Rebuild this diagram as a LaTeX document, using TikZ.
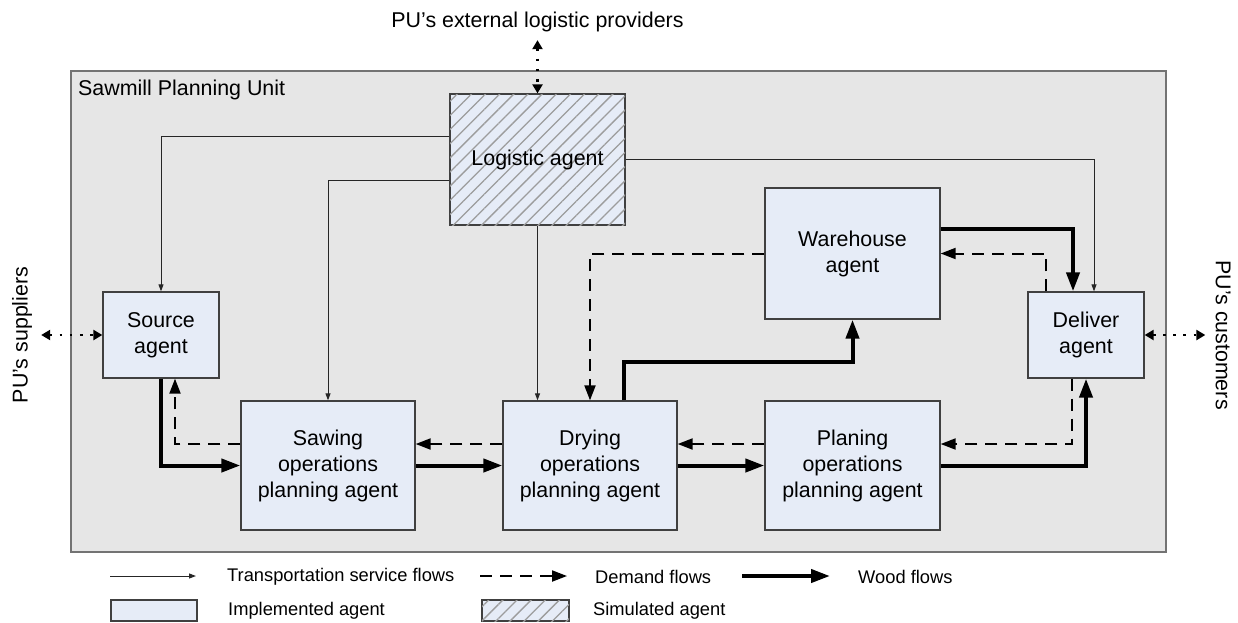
\documentclass[tikz,border=0pt]{standalone}
\usepackage{fontspec}
\setmainfont{Liberation Sans}
\usetikzlibrary{arrows.meta,patterns.meta,positioning}
\definecolor{agentfill}{HTML}{E6ECF7}
\definecolor{unitfill}{HTML}{E6E6E6}
\definecolor{hatchgray}{HTML}{9C9C9C}

\begin{document}
\begin{tikzpicture}[x=1pt,y=-1pt]
    \tikzset{boxfont/.style={font=\fontsize{21.4}{26}\selectfont}}
    \tikzset{legfont/.style={font=\fontsize{18.3}{22}\selectfont}}
    \tikzset{agent/.style={draw=black!75, line width=1.3pt, fill=agentfill, align=center, inner sep=0pt, boxfont}}
    \tikzset{simagent/.style={agent, postaction={pattern={Lines[angle=45,distance=10pt,line width=1.3pt]}, pattern color=hatchgray}}}
    \tikzset{transp/.style={draw=black!85, line width=1pt, -{Triangle[length=7pt,width=5pt]}}}
    \tikzset{demand/.style={line width=2pt, dash pattern=on 12pt off 8pt, -{Triangle[length=15pt,width=11pt]}}}
    \tikzset{wood/.style={line width=4pt, -{Triangle[length=19pt,width=13pt]}}}
    \tikzset{extflow/.style={line width=2.6pt, dash pattern=on 2.6pt off 7.5pt, {Triangle[length=9pt,width=10pt]}-{Triangle[length=9pt,width=10pt]}}}
    \useasboundingbox (0,0) rectangle (1238,622);
    \node[draw=black!55, line width=1.4pt, fill=unitfill, minimum width=1095pt, minimum height=481pt] (pu) at (618.5,311.5) {};
    \node[boxfont, anchor=west, inner sep=0pt] (putitle) at (78,90) {Sawmill Planning Unit};
    \node[boxfont, inner sep=0pt] (ext) at (537.5,22) {PU's external logistic providers};
    \node[boxfont, inner sep=0pt, rotate=90] (sup) at (22,335) {PU's suppliers};
    \node[boxfont, inner sep=0pt, rotate=-90] (cust) at (1223,335) {PU's customers};

    \node[simagent, minimum width=175pt, minimum height=131pt] (logistic) at (537.5,159.5) {Logistic agent};
    \node[agent, minimum width=116pt, minimum height=86pt] (source) at (161,335) {Source\\agent};
    \node[agent, minimum width=116pt, minimum height=86pt] (deliver) at (1086,335) {Deliver\\agent};
    \node[agent, minimum width=175pt, minimum height=131pt] (warehouse) at (852.5,253.5) {Warehouse\\agent};
    \node[agent, minimum width=174pt, minimum height=129pt] (sawing) at (328,465.5) {Sawing\\operations\\planning agent};
    \node[agent, minimum width=174pt, minimum height=129pt] (drying) at (590,465.5) {Drying\\operations\\planning agent};
    \node[agent, minimum width=175pt, minimum height=129pt] (planing) at (852.5,465.5) {Planing\\operations\\planning agent};
    \coordinate (upbend) at (852.5,362);

    \draw[extflow] ([yshift=-8pt]ext.south) -- (logistic.north);
    \draw[extflow] ([xshift=9pt]sup.south) -- (source.west);
    \draw[extflow] (deliver.east) -- ([xshift=-10pt]cust.south);

    \draw[transp] ([yshift=23.5pt]logistic.west) -| (source.north);
    \draw[transp] ([yshift=-20.5pt]logistic.west) -| (sawing.north);
    \draw[transp] (logistic.south) -- (logistic.south |- drying.north);
    \draw[transp] (logistic.east) -| ([xshift=8pt]deliver.north);

    \draw[demand] (warehouse.west) -| (drying.north);
    \draw[demand] ([xshift=-40pt]deliver.north) |- (warehouse.east);
    \draw[demand] ([xshift=-14pt]deliver.south) |- ([yshift=21.5pt]planing.east);
    \draw[demand] ([yshift=21.5pt]planing.west) -- ([yshift=21.5pt]drying.east);
    \draw[demand] ([yshift=21.5pt]drying.west) -- ([yshift=21.5pt]sawing.east);
    \draw[demand] ([yshift=21.5pt]sawing.west) -| ([xshift=14pt]source.south);

    \draw[wood] (source.south) |- (sawing.west);
    \draw[wood] (sawing.east) -- (drying.west);
    \draw[wood] (drying.east) -- (planing.west);
    \draw[wood] (planing.east) -| (deliver.south);
    \draw[wood] ([xshift=34pt]drying.north) |- (upbend) -- (warehouse.south);
    \draw[wood] ([yshift=24.5pt]warehouse.east) -| ([xshift=-13pt]deliver.north);

    \draw[transp] (110,576) -- (196,576);
    \node[legfont, anchor=west, inner sep=0pt] (ltransp) at (227,577) {Transportation service flows};
    \draw[demand] (480,576) -- (567,576);
    \node[legfont, anchor=west, inner sep=0pt] (ldemand) at (595,577) {Demand flows};
    \draw[wood] (742,576) -- (830,576);
    \node[legfont, anchor=west, inner sep=0pt] (lwood) at (858,577) {Wood flows};
    \node[agent, minimum width=86pt, minimum height=21pt] (limpl) at (154,610.5) {};
    \node[legfont, anchor=west, inner sep=0pt] (limpltext) at (228,611) {Implemented agent};
    \node[simagent, minimum width=87pt, minimum height=21pt] (lsim) at (525.5,610.5) {};
    \node[legfont, anchor=west, inner sep=0pt] (lsimtext) at (593,611) {Simulated agent};
\end{tikzpicture}
\end{document}
